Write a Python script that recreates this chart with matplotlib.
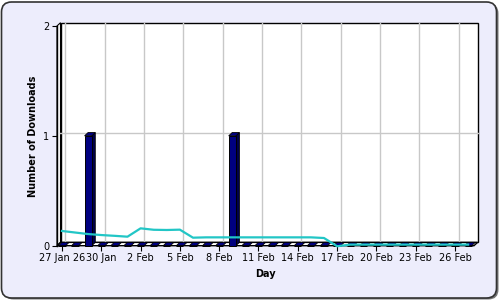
import numpy as np
import matplotlib
matplotlib.use('Agg')
import matplotlib.pyplot as plt
from matplotlib.patches import Rectangle, Polygon, FancyBboxPatch
from matplotlib.transforms import offset_copy, IdentityTransform

# one entry per day, 27 Jan .. 27 Feb
days = ['27 Jan', '28 Jan', '29 Jan', '30 Jan', '31 Jan', '1 Feb', '2 Feb', '3 Feb',
        '4 Feb', '5 Feb', '6 Feb', '7 Feb', '8 Feb', '9 Feb', '10 Feb', '11 Feb',
        '12 Feb', '13 Feb', '14 Feb', '15 Feb', '16 Feb', '17 Feb', '18 Feb', '19 Feb',
        '20 Feb', '21 Feb', '22 Feb', '23 Feb', '24 Feb', '25 Feb', '26 Feb', '27 Feb']
downloads = [0, 0, 1, 0, 0, 0, 0, 0, 0, 0, 0, 0, 0, 1, 0, 0,
             0, 0, 0, 0, 0, 0, 0, 0, 0, 0, 0, 0, 0, 0, 0, 0]
trend = [0.134, 0.12, 0.106, 0.097, 0.09, 0.082, 0.158, 0.145,
         0.143, 0.146, 0.073, 0.076, 0.076, 0.076, 0.076, 0.076,
         0.076, 0.076, 0.076, 0.076, 0.07, -0.005, 0.01, 0.01,
         0.01, 0.01, 0.01, 0.01, 0.01, 0.01, 0.01, 0.01]
tick_labels = ['27 Jan 26', '30 Jan', '2 Feb', '5 Feb', '8 Feb', '11 Feb',
               '14 Feb', '17 Feb', '20 Feb', '23 Feb', '26 Feb']
y_ticks = [0, 1, 2]

navy = '#000080'
bg = '#ededfc'

fig = plt.figure(figsize=(5, 3), dpi=100)
fig.patch.set_facecolor('white')

# rounded frame with a small shadow
shadow = FancyBboxPatch((3.5, 0.5), 495, 296, boxstyle='round,pad=0,rounding_size=10',
                        transform=IdentityTransform(), fc='#777777', ec='none', zorder=-3)
frame = FancyBboxPatch((1.5, 2.0), 495, 296, boxstyle='round,pad=0,rounding_size=10',
                       transform=IdentityTransform(), fc=bg, ec='#333333', lw=1.2, zorder=-2)
fig.add_artist(shadow)
fig.add_artist(frame)

ax = fig.add_axes([57 / 500, (300 - 245.7) / 300, (474 - 57) / 500, (245.7 - 26) / 300])
ax.set_facecolor('none')
x = np.arange(len(days))
xmin, xmax = -0.38, 31.45
ax.set_xlim(xmin, xmax)
ax.set_ylim(0, 2)

# 3d depth in px and in data units
dpx, dpy = 3.5, 3.3
ddx = (xmax - xmin) / 417 * dpx
ddy = 2 / 219.7 * dpy
back = offset_copy(ax.transData, fig=fig, x=dpx, y=dpy, units='dots')
back_ax = offset_copy(ax.transAxes, fig=fig, x=dpx, y=dpy, units='dots')

# back wall, side wall, floor
ax.add_patch(Rectangle((0, 0), 1, 1, transform=back_ax, fc='white', ec='black', lw=1,
                       zorder=0, clip_on=False))
ax.add_patch(Polygon([(xmin, 0), (xmin + ddx, ddy), (xmin + ddx, 2 + ddy), (xmin, 2)],
                     closed=True, fc='white', ec='black', lw=0.8, zorder=0.5, clip_on=False))
ax.add_patch(Polygon([(xmin, 0), (xmax, 0), (xmax + ddx, ddy), (xmin + ddx, ddy)],
                     closed=True, fc='white', ec='black', lw=1, zorder=0.5, clip_on=False))

# grid on back wall
for t in x[::3]:
    ax.plot([t, t], [0, 2], color='#c8c8c8', lw=1, transform=back, zorder=0.8, clip_on=False)
ax.plot([xmin, xmax], [1, 1], color='#c8c8c8', lw=1, transform=back, zorder=0.8, clip_on=False)

# bars with 3d faces
w = 0.55
ax.bar(x, downloads, width=w, color=navy, edgecolor='black', lw=0.7, zorder=3, clip_on=False)
for xi, v in zip(x, downloads):
    x0, x1 = xi - w / 2, xi + w / 2
    ax.add_patch(Polygon([(x0, v), (x1, v), (x1 + ddx, v + ddy), (x0 + ddx, v + ddy)],
                         closed=True, fc=navy, ec='black', lw=0.6, zorder=2.5, clip_on=False))
    if v > 0:
        ax.add_patch(Polygon([(x1, 0), (x1 + ddx, ddy), (x1 + ddx, v + ddy), (x1, v)],
                             closed=True, fc='#00004a', ec='black', lw=0.6, zorder=2.4,
                             clip_on=False))

ax.plot(x, trend, color='#22c6c6', lw=1.6, zorder=5, clip_on=False)

for s in ['top', 'right', 'bottom']:
    ax.spines[s].set_visible(False)
ax.spines['left'].set_linewidth(1)

ax.set_xticks(x[::3], tick_labels)
ax.set_yticks(y_ticks)
ax.tick_params(axis='both', labelsize=7, length=3.5, width=0.8, pad=2, color='black')
ax.set_xlabel('Day', fontsize=7, fontweight='bold')
ax.set_ylabel('Number of Downloads', fontsize=7, fontweight='bold')

fig.savefig('out.png', dpi=100, facecolor=fig.get_facecolor())
